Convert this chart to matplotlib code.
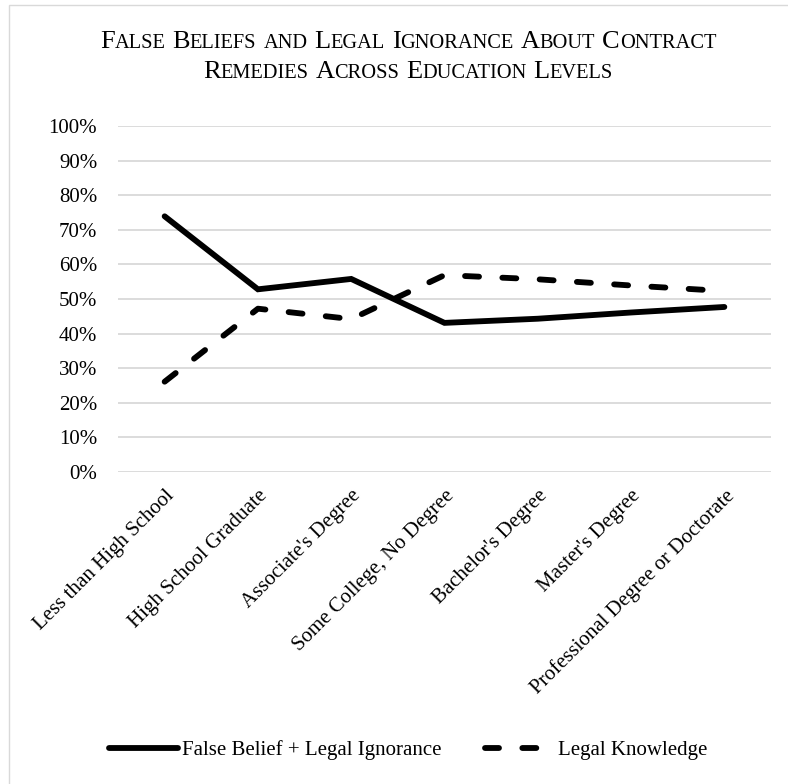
import matplotlib
matplotlib.use('Agg')
import matplotlib.pyplot as plt
from matplotlib.offsetbox import TextArea, HPacker, VPacker, AnchoredOffsetbox
from matplotlib.patches import Rectangle

# data
categories = ['Less than High School', 'High School Graduate', "Associate's Degree",
              'Some College, No Degree', "Bachelor's Degree", "Master's Degree",
              'Professional Degree or Doctorate']
false_belief = [73.9, 52.8, 55.8, 43.1, 44.3, 46.1, 47.7]
legal_knowledge = [26.1, 47.2, 44.2, 56.9, 55.7, 53.9, 52.3]
y_ticks = list(range(0, 101, 10))
title_lines = [['False', 'Beliefs', 'and', 'Legal', 'Ignorance', 'About', 'Contract'],
               ['Remedies', 'Across', 'Education', 'Levels']]

FONT = 'Liberation Serif'
plt.rcParams['font.family'] = FONT

fig = plt.figure(figsize=(7.88, 7.84), dpi=100)
W, H = 788, 784
ax = fig.add_axes([118 / W, 1 - 472 / H, (771 - 118) / W, (472 - 126) / H])

x = list(range(len(categories)))
ax.plot(x, false_belief, color='black', lw=4.2, solid_capstyle='round',
        solid_joinstyle='miter', label='False Belief + Legal Ignorance')
ax.plot(x, legal_knowledge, color='black', lw=4.2, linestyle=(0, (2.4, 4.0)),
        dash_capstyle='round', label='Legal Knowledge')

ax.set_xlim(-0.5, len(categories) - 0.5)
ax.set_ylim(0, 100)
ax.set_yticks(y_ticks)
ax.set_yticklabels([f'{v}%' for v in y_ticks], fontsize=15)
ax.set_xticks(x)
ax.set_xticklabels(categories, rotation=45, ha='right', va='top',
                   rotation_mode='anchor', fontsize=15)
ax.tick_params(length=0)
ax.tick_params(axis='y', pad=15)
ax.tick_params(axis='x', pad=10)
ax.grid(axis='y', color='#d9d9d9', lw=1.3)
ax.set_axisbelow(True)
for s in ax.spines.values():
    s.set_visible(False)

# small caps title
def word_box(word, big, small):
    pieces = []
    if word[0].isupper():
        pieces.append(TextArea(word[0], textprops=dict(fontsize=big, family=FONT)))
        rest = word[1:]
    else:
        rest = word
    if rest:
        pieces.append(TextArea(rest.upper(), textprops=dict(fontsize=small, family=FONT)))
    return HPacker(children=pieces, align='baseline', pad=0, sep=0)

lines = []
for words in title_lines:
    lines.append(HPacker(children=[word_box(w, 19, 14.7) for w in words],
                         align='baseline', pad=0, sep=5))
title_box = VPacker(children=lines, align='center', pad=0, sep=6)
anchored = AnchoredOffsetbox(loc='upper center', child=title_box, pad=0, frameon=False,
                             bbox_to_anchor=(408 / W, 1 - 31 / H),
                             bbox_transform=fig.transFigure, borderpad=0)
fig.add_artist(anchored)

fig.legend(loc='center', bbox_to_anchor=(408 / W, 1 - 750 / H), ncol=2, frameon=False,
           fontsize=15, handlelength=3.3, columnspacing=2.1, handletextpad=0.2)

fig.add_artist(Rectangle((9 / W, -0.05), 1.1, 1 - 5 / H + 0.05, transform=fig.transFigure,
                         fill=False, edgecolor='#d9d9d9', lw=1))

fig.savefig('out.png', dpi=100)
